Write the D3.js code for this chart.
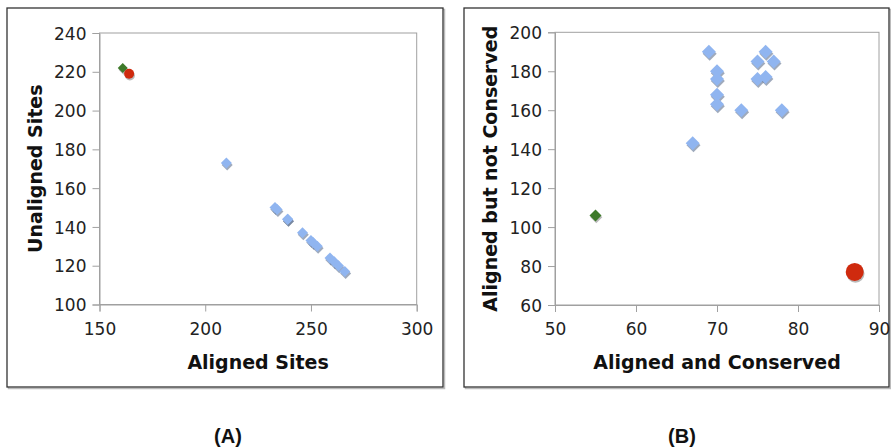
<!DOCTYPE html>
<html>
<head>
<meta charset="utf-8">
<script src="https://cdn.jsdelivr.net/npm/d3@7"></script>
<style>
html,body{margin:0;padding:0;background:#fff;}
svg{display:block;}
</style>
</head>
<body>
<svg id="chart" width="891" height="447"></svg>
<script>
// ---- Data ----
// Panel A: Aligned Sites vs Unaligned Sites
const aAlignedBlue   = [259, 250, 246, 239, 234, 233, 210, 261, 266, 263, 251, 253, 239];
const aUnalignedBlue = [124, 133, 137, 144, 149, 150, 173, 122, 117, 120, 132, 130, 144];
const aGreen = [161, 222];
const aRed   = [164, 219];
const aXTicks = [150, 200, 250, 300];
const aYTicks = [100, 120, 140, 160, 180, 200, 220, 240];

// Panel B: Aligned and Conserved vs Aligned but not Conserved
const bConservedBlue    = [69, 70, 70, 70, 70, 73, 67, 75, 76, 77, 75, 76, 78];
const bNotConservedBlue = [190, 180, 176, 168, 163, 160, 143, 185, 190, 185, 176, 177, 160];
const bGreen = [55, 106];
const bRed   = [87, 77];
const bXTicks = [50, 60, 70, 80, 90];
const bYTicks = [60, 80, 100, 120, 140, 160, 180, 200];

const svg = d3.select("#chart");
const BLUE = "#90b5f0", BLUE_SH = "#5f7290", GREEN = "#3e7a2a", RED = "#cf2a0e";
const FONT = "'DejaVu Sans', Verdana, sans-serif";

function diamondPath(r){ return `M0,${-r}L${r},0L0,${r}L${-r},0Z`; }

function panel(cfg){
  const g = svg.append("g");
  // outer frame
  g.append("rect").attr("x", cfg.frame[0]+1.5).attr("y", cfg.frame[1]+1.5)
    .attr("width", cfg.frame[2]-cfg.frame[0]).attr("height", cfg.frame[3]-cfg.frame[1])
    .attr("fill","none").attr("stroke","#bbb").attr("stroke-width",1.5);
  g.append("rect").attr("x", cfg.frame[0]).attr("y", cfg.frame[1])
    .attr("width", cfg.frame[2]-cfg.frame[0]).attr("height", cfg.frame[3]-cfg.frame[1])
    .attr("fill","#fff").attr("stroke","#333").attr("stroke-width",1.3);

  const x = d3.scaleLinear().domain(cfg.xDomain).range([cfg.plot[0], cfg.plot[2]]);
  const y = d3.scaleLinear().domain(cfg.yDomain).range([cfg.plot[3], cfg.plot[1]]);

  // plot box
  g.append("rect").attr("x", cfg.plot[0]).attr("y", cfg.plot[1])
    .attr("width", cfg.plot[2]-cfg.plot[0]).attr("height", cfg.plot[3]-cfg.plot[1])
    .attr("fill","none").attr("stroke","#a0a0a0").attr("stroke-width",1);

  const xa = g.append("g").attr("transform",`translate(0,${cfg.plot[3]})`)
    .call(d3.axisBottom(x).tickValues(cfg.xTicks).tickSize(7).tickPadding(6).tickFormat(d3.format("d")));
  const ya = g.append("g").attr("transform",`translate(${cfg.plot[0]},0)`)
    .call(d3.axisLeft(y).tickValues(cfg.yTicks).tickSize(7).tickPadding(6).tickFormat(d3.format("d")));
  [xa, ya].forEach(a=>{
    a.select(".domain").attr("stroke","#a0a0a0");
    a.selectAll(".tick line").attr("stroke","#a0a0a0");
    a.selectAll("text").attr("fill","#222").style("font-family",FONT).style("font-size","17px");
  });
  xa.selectAll("text").attr("dy","1.0em");
  ya.selectAll("text").attr("dy","0.36em");

  // axis titles
  g.append("text").attr("x", (cfg.plot[0]+cfg.plot[2])/2).attr("y", cfg.xTitleY)
    .attr("text-anchor","middle").style("font-family",FONT)
    .style("font-size","19px").style("font-weight","bold").attr("fill","#111").text(cfg.xTitle);
  g.append("text").attr("transform",`translate(${cfg.yTitleX},${(cfg.plot[1]+cfg.plot[3])/2}) rotate(-90)`)
    .attr("text-anchor","middle").style("font-family",FONT)
    .style("font-size","19px").style("font-weight","bold").attr("fill","#111").text(cfg.yTitle);

  // blue diamonds (shadow + marker)
  const pts = cfg.bx.map((v,i)=>[v, cfg.by[i]]);
  g.append("g").selectAll("path").data(pts).join("path")
    .attr("d", diamondPath(cfg.bR)).attr("fill", BLUE_SH).attr("opacity",0.6)
    .attr("transform", d=>`translate(${x(d[0])+0.8},${y(d[1])+2})`);
  g.append("g").selectAll("path").data(pts).join("path")
    .attr("d", diamondPath(cfg.bR)).attr("fill", BLUE)
    .attr("transform", d=>`translate(${x(d[0])},${y(d[1])})`);

  // green diamond
  g.append("path").attr("d", diamondPath(cfg.gR)).attr("fill","#666").attr("opacity",0.45)
    .attr("transform",`translate(${x(cfg.green[0])+0.8},${y(cfg.green[1])+1.8})`);
  g.append("path").attr("d", diamondPath(cfg.gR)).attr("fill", GREEN)
    .attr("transform",`translate(${x(cfg.green[0])},${y(cfg.green[1])})`);
  // red circle
  g.append("circle").attr("cx", x(cfg.red[0])+0.8).attr("cy", y(cfg.red[1])+1.8).attr("r", cfg.rR)
    .attr("fill","#666").attr("opacity",0.45);
  g.append("circle").attr("cx", x(cfg.red[0])).attr("cy", y(cfg.red[1])).attr("r", cfg.rR).attr("fill", RED);

  // panel label
  svg.append("text").attr("x", cfg.labelX).attr("y", 443).attr("text-anchor","middle")
    .style("font-family","'Liberation Sans',Arial,sans-serif")
    .style("font-size","20px").style("font-weight","bold").attr("fill","#111").text(cfg.label);
}

panel({
  frame:[7,8,443,387], plot:[99.5,33,416.7,304.5],
  xDomain:[150,300], yDomain:[100,240], xTicks:aXTicks, yTicks:aYTicks,
  xTitle:"Aligned Sites", yTitle:"Unaligned Sites", xTitleY:369, yTitleX:42,
  bx:aAlignedBlue, by:aUnalignedBlue, bR:5.5, green:aGreen, gR:5, red:aRed, rR:5,
  label:"(A)", labelX:228
});
panel({
  frame:[464,8,889,387], plot:[555,32.3,879,305],
  xDomain:[50,90], yDomain:[60,200], xTicks:bXTicks, yTicks:bYTicks,
  xTitle:"Aligned and Conserved", yTitle:"Aligned but not Conserved", xTitleY:369, yTitleX:497,
  bx:bConservedBlue, by:bNotConservedBlue, bR:7, green:bGreen, gR:6, red:bRed, rR:9,
  label:"(B)", labelX:682
});
</script>
</body>
</html>
